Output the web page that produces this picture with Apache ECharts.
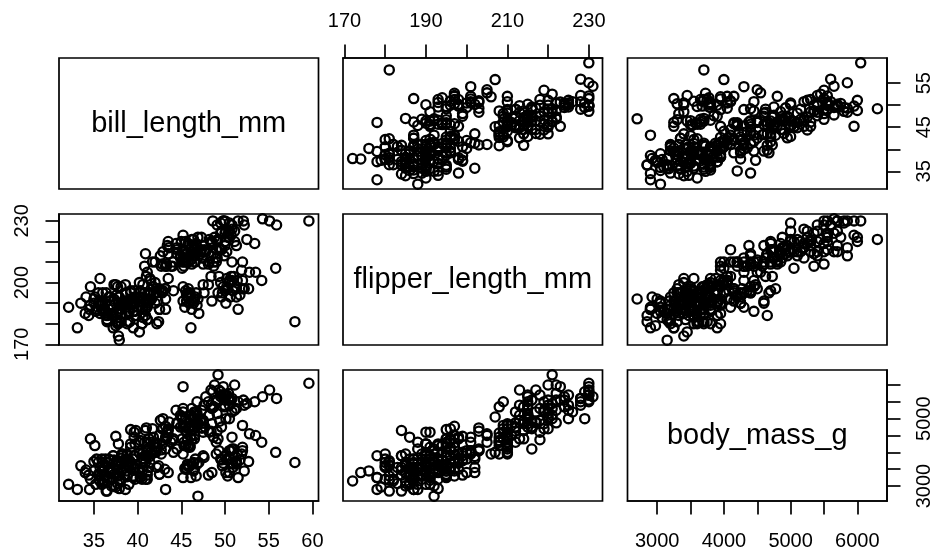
<!DOCTYPE html>
<html><head><meta charset="utf-8">
<style>html,body{margin:0;padding:0;background:#fff}#c{width:937px;height:554px}</style>
<script src="https://cdn.jsdelivr.net/npm/echarts@6/dist/echarts.min.js"></script>
</head><body><div id="c"></div>
<script>
const variableNames = ['bill_length_mm','flipper_length_mm','body_mass_g'];
const billLength = [
39.1,39.5,40.3,36.7,39.3,38.9,39.2,34.1,42,37.8,37.8,41.1,38.6,34.6,36.6,38.7,42.5,34.4,46,37.8,37.7,35.9,38.2,38.8,35.3,40.6,40.5,37.9,40.5,39.5,37.2,39.5,40.9,36.4,39.2,38.8,42.2,37.6,39.8,36.5,40.8,36,44.1,37,39.6,41.1,37.5,36,42.3,39.6,40.1,35,42,34.5,41.4,39,40.6,36.5,37.6,35.7,41.3,37.6,41.1,36.4,41.6,35.5,41.1,35.9,41.8,33.5,39.7,39.6,45.8,35.5,42.8,40.9,37.2,36.2,42.1,34.6,42.9,36.7,35.1,37.3,41.3,36.3,36.9,38.3,38.9,35.7,41.1,34,39.6,36.2,40.8,38.1,40.3,33.1,43.2,35,41,37.7,37.8,37.9,39.7,38.6,38.2,38.1,43.2,38.1,45.6,39.7,42.2,39.6,42.7,38.6,37.3,35.7,41.1,36.2,37.7,40.2,41.4,35.2,40.6,38.8,41.5,39,44.1,38.5,43.1,36.8,37.5,38.1,41.1,35.6,40.2,37,39.7,40.2,40.6,32.1,40.7,37.3,39,39.2,36.6,36,37.8,36,41.5,
46.1,50,48.7,50,47.6,46.5,45.4,46.7,43.3,46.8,40.9,49,45.5,48.4,45.8,49.3,42,49.2,46.2,48.7,50.2,45.1,46.5,46.3,42.9,46.1,44.5,47.8,48.2,50,47.3,42.8,45.1,59.6,49.1,48.4,42.6,44.4,44,48.7,42.7,49.6,45.3,49.6,50.5,43.6,45.5,50.5,44.9,45.2,46.6,48.5,45.1,50.1,46.5,45,43.8,45.5,43.2,50.4,45.3,46.2,45.7,54.3,45.8,49.8,46.2,49.5,43.5,50.7,47.7,46.4,48.2,46.5,46.4,48.6,47.5,51.1,45.2,45.2,49.1,52.5,47.4,50,44.9,50.8,43.4,51.3,47.5,52.1,47.5,52.2,45.5,49.5,44.5,50.8,49.4,46.9,48.4,51.1,48.5,55.9,47.2,49.1,47.3,46.8,41.7,53.4,43.3,48.1,50.5,49.8,43.5,51.5,46.2,55.1,44.5,48.8,47.2,46.8,50.4,45.2,49.9,
46.5,50,51.3,45.4,52.7,45.2,46.1,51.3,46,51.3,46.6,51.7,47,52,45.9,50.5,50.3,58,46.4,49.2,42.4,48.5,43.2,50.6,46.7,52,50.5,49.5,46.4,52.8,40.9,54.2,42.5,51,49.7,47.5,47.6,52,46.9,53.5,49,46.2,50.9,45.5,50.9,50.8,50.1,49,51.5,49.8,48.1,51.4,45.7,50.7,42.5,52.2,45.2,49.3,50.2,45.6,51.9,46.8,45.7,55.8,43.5,49.6,50.8,50.2];
const flipperLength = [
181,186,195,193,190,181,195,193,190,186,180,182,191,198,185,195,197,184,194,174,180,189,185,180,187,183,180,172,180,178,178,188,184,195,196,190,180,181,184,182,195,186,196,185,190,182,179,190,191,186,188,190,200,187,191,186,193,181,194,185,195,185,192,184,192,195,188,190,198,190,190,196,197,190,195,191,184,187,195,189,196,187,193,191,194,190,189,189,190,202,205,185,186,187,208,190,196,178,192,192,203,183,190,193,184,199,190,181,197,198,191,193,197,191,196,188,199,189,189,187,198,176,202,186,199,191,195,191,210,190,197,193,199,187,190,191,200,185,193,193,187,188,190,192,185,190,184,195,193,187,201,
211,230,210,218,215,210,211,219,209,215,214,216,214,213,210,217,210,221,209,214,215,215,213,215,215,215,216,215,210,220,222,209,207,230,220,220,213,219,208,208,208,225,210,216,222,217,210,225,213,215,210,220,210,225,217,220,208,220,208,224,208,221,214,231,219,230,214,229,220,223,216,221,221,217,216,230,209,220,215,223,212,221,212,224,212,228,218,218,212,230,218,228,212,224,214,226,216,222,203,225,219,228,215,228,216,215,210,219,208,209,229,230,214,230,218,230,217,222,214,215,222,212,213,
192,196,193,188,197,198,178,197,195,198,193,194,185,201,190,201,197,181,190,195,181,191,187,193,195,197,200,200,191,205,187,201,187,203,195,199,195,210,192,205,210,187,196,196,196,201,190,212,187,198,199,201,193,203,187,197,191,203,202,194,206,189,195,207,202,193,210,198];
const bodyMass = [
3750,3800,3250,3450,3650,3625,4675,3475,4250,3300,3700,3200,3800,4400,3700,3450,4500,3325,4200,3400,3600,3800,3950,3800,3800,3550,3200,3150,3950,3250,3900,3300,3900,3325,4150,3950,3550,3300,4650,3150,3900,3100,4400,3000,4600,3425,2975,3450,4150,3500,4300,3450,4050,2900,3700,3550,3800,2850,3750,3150,4400,3600,4050,2850,3950,3350,4100,3050,4450,3600,3900,3550,4150,3700,4250,3700,3900,3550,4000,3200,4700,3800,4200,3350,3550,3800,3500,3950,3600,3550,4300,3400,4450,3300,4300,3700,4350,2900,4100,3725,4725,3075,4250,2925,3550,3750,3900,3175,4775,3825,4600,3200,4275,3900,4075,2900,3775,3350,3325,3150,3500,3450,3875,3050,4000,3275,4300,3050,4000,3325,3500,3500,4475,3425,3900,3175,3975,3400,4250,3400,3475,3050,3725,3000,3650,4250,3475,3450,3750,3700,4000,
4500,5700,4450,5700,5400,4500,4800,5200,4400,5150,4650,5550,4650,5850,4200,5850,4150,6300,4800,5350,5700,5000,4400,5050,5000,5100,4100,5650,4600,5550,5250,4700,5050,6050,5150,5400,4950,5250,4350,5350,3950,5700,4300,4750,5550,4900,4200,5400,5100,5300,4850,5300,4400,5000,4900,5050,4300,5000,4450,5550,4200,5300,4400,5650,4700,5700,4650,5800,4700,5550,4750,5000,5100,5200,4700,5800,4600,6000,4750,5950,4625,5450,4725,5350,4750,5600,4600,5300,4875,5550,4950,5400,4750,5650,4850,5200,4925,4875,4625,5250,4850,5600,4975,5500,4725,5500,4700,5500,4575,5500,5000,5950,4650,5500,4375,5850,4875,6000,4925,4850,5750,5200,5400,
3500,3900,3650,3525,3725,3950,3250,3750,4150,3700,3800,3775,3700,4050,3575,4050,3300,3700,3450,4400,3600,3400,2900,3800,3300,4150,3400,3800,3700,4550,3200,4300,3350,4100,3600,3900,3850,4800,2700,4500,3950,3650,3550,3500,3675,4450,3400,4300,3250,3675,3325,3950,3600,4050,3350,3450,3250,4050,3800,3525,3950,3650,3650,4000,3400,3775,4100,3775];
const values = [billLength, flipperLength, bodyMass];
const limits = [[31.0, 60.7],[169.64, 233.36],[2556, 6444]];
const billTicks = [35,40,45,50,55,60], billTicksY = [35,40,45,50,55];
const flipperTicks = [170,180,190,200,210,220,230];
const massTicks = [3000,3500,4000,4500,5000,5500,6000];
const xLabels = {top:[170,190,210,230], bill:[35,40,45,50,55,60], mass:[3000,4000,5000,6000]};
const yLabels = {flipper:[170,200,230], bill:[35,45,55], mass:[3000,5000]};

const colLeft=[59,343,627.5], rowTop=[58,214,370], panelW=259.5, panelH=131;
const fontFamily='"Liberation Sans", Arial, sans-serif';
const tickFont=20, tickLen=13.5, labelMargin=27, bottomMargin=30;

function axisCommon(i,show,ticks,labels,pos,rotate){
  return {type:'value',min:limits[i][0],max:limits[i][1],position:pos,scale:true,show:show,
    splitLine:{show:false},
    axisLine:{show:show,onZero:false,lineStyle:{color:'#000',width:1.7}},
    axisTick:{show:show,length:tickLen,lineStyle:{color:'#000',width:1.7},customValues:ticks||[]},
    axisLabel:{show:show,color:'#000',fontFamily,fontSize:tickFont,margin:pos==='bottom'?bottomMargin:labelMargin,rotate:rotate||0,hideOverlap:false,showMinLabel:true,showMaxLabel:true,customValues:labels||[],formatter:v=>String(v)}};
}
const grids=[],xAxes=[],yAxes=[],series=[],graphics=[];
const xCfg={'0,2':[billTicks,xLabels.bill,'bottom'],'1,0':[flipperTicks,xLabels.top,'top'],'2,2':[massTicks,xLabels.mass,'bottom']};
const yCfg={'0,1':[flipperTicks,yLabels.flipper,'left'],'2,0':[billTicksY,yLabels.bill,'right'],'2,2':[massTicks,yLabels.mass,'right']};
for(let r=0;r<3;r++)for(let c=0;c<3;c++){
  const idx=grids.length;
  grids.push({left:colLeft[c],top:rowTop[r],width:panelW,height:panelH,show:true,borderColor:'#000',borderWidth:1.7,backgroundColor:'transparent',containLabel:false});
  const xc=xCfg[c+','+r], yc=yCfg[c+','+r];
  xAxes.push(Object.assign(axisCommon(c,!!xc,xc&&xc[0],xc&&xc[1],xc?xc[2]:'bottom',0),{gridIndex:idx}));
  yAxes.push(Object.assign(axisCommon(r,!!yc,yc&&yc[0],yc&&yc[1],yc?yc[2]:'left',90),{gridIndex:idx}));
  if(r===c){
    graphics.push({type:'text',x:colLeft[c]+panelW/2,y:rowTop[r]+panelH/2,silent:true,
      style:{text:variableNames[r],fill:'#000',font:'29px '+fontFamily,textAlign:'center',textVerticalAlign:'middle'}});
  } else {
    series.push({type:'scatter',xAxisIndex:idx,yAxisIndex:idx,symbol:'circle',symbolSize:9.2,silent:true,clip:false,
      itemStyle:{color:'rgba(0,0,0,0)',borderColor:'#000',borderWidth:2.3,opacity:1},
      data:values[c].map((v,i)=>[v,values[r][i]])});
  }
}
const chart=echarts.init(document.getElementById('c'),null,{renderer:'canvas'});
chart.setOption({animation:false,backgroundColor:'#fff',grid:grids,xAxis:xAxes,yAxis:yAxes,series,graphic:graphics,tooltip:{show:false}});
</script></body></html>
